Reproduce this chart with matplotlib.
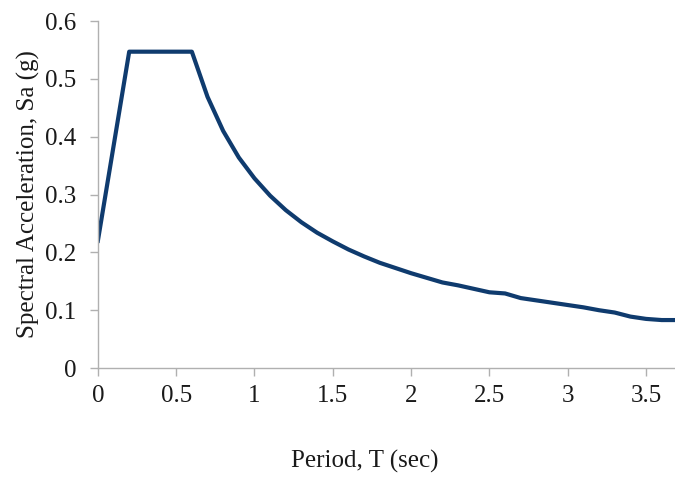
import numpy as np
import matplotlib.pyplot as plt

# Design response spectrum
period = [0.0, 0.2, 0.6, 0.7, 0.8, 0.9, 1.0, 1.1, 1.2, 1.3, 1.4, 1.5, 1.6, 1.7,
          1.8, 1.9, 2.0, 2.1, 2.2, 2.3, 2.4, 2.5, 2.6, 2.7, 2.8, 2.9, 3.0, 3.1,
          3.2, 3.3, 3.4, 3.5, 3.6, 3.7]
sa = [0.22, 0.547, 0.547, 0.469, 0.410, 0.364, 0.328, 0.298, 0.273, 0.252,
      0.234, 0.219, 0.205, 0.193, 0.182, 0.173, 0.164, 0.156, 0.148, 0.143,
      0.137, 0.131, 0.129, 0.121, 0.117, 0.113, 0.109, 0.105, 0.100, 0.096,
      0.089, 0.085, 0.083, 0.083]

x_ticks = [0, 0.5, 1, 1.5, 2, 2.5, 3, 3.5]
x_ticklabels = ["0", "0.5", "1", "1.5", "2", "2.5", "3", "3.5"]
y_ticks = [0, 0.1, 0.2, 0.3, 0.4, 0.5, 0.6]
y_ticklabels = ["0", "0.1", "0.2", "0.3", "0.4", "0.5", "0.6"]

plt.rcParams['font.family'] = ['Liberation Serif', 'DejaVu Serif']

fig = plt.figure(figsize=(6.75, 4.78), dpi=100)
ax = fig.add_axes([0.145, 0.23, 0.855, 0.726])

ax.plot(period, sa, color='#0f3b6e', linewidth=3.0, solid_joinstyle='round')

ax.set_xlim(0, 3.685)
ax.set_ylim(0, 0.6)
ax.set_xticks(x_ticks)
ax.set_xticklabels(x_ticklabels)
ax.set_yticks(y_ticks)
ax.set_yticklabels(y_ticklabels)

for side in ['top', 'right']:
    ax.spines[side].set_visible(False)
for side in ['left', 'bottom']:
    ax.spines[side].set_color('#b0b0b0')
    ax.spines[side].set_linewidth(1.0)
ax.tick_params(axis='both', colors='#b0b0b0', labelcolor='#1a1a1a',
               labelsize=18, length=5.5, width=1.0, direction='out')
ax.tick_params(axis='x', pad=6.5)
ax.tick_params(axis='y', pad=10)

ax.set_xlabel("Period, T (sec)", fontsize=18, color='#1a1a1a')
ax.xaxis.set_label_coords(0.463, -0.235)
ax.set_ylabel("Spectral Acceleration, Sa (g)", fontsize=18, labelpad=4,
              color='#1a1a1a')

fig.savefig("out.png", dpi=100)
